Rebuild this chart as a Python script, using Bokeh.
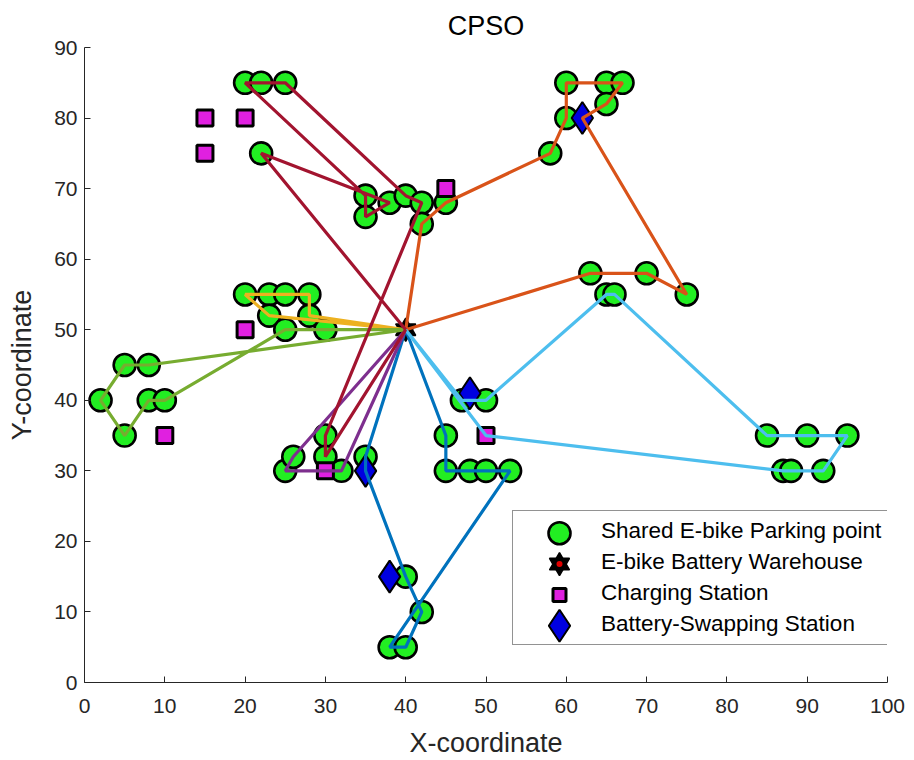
from bokeh.plotting import figure
from bokeh.models import Range1d, FixedTicker, Legend, LegendItem
from bokeh.embed import file_html
from bokeh.resources import INLINE

# ---------------- data ----------------
title_text = "CPSO"
x_label = "X-coordinate"
y_label = "Y-coordinate"
x_ticks = [0, 10, 20, 30, 40, 50, 60, 70, 80, 90, 100]
y_ticks = [0, 10, 20, 30, 40, 50, 60, 70, 80, 90]

legend_labels = ["Shared E-bike Parking point", "E-bike Battery Warehouse",
                 "Charging Station", "Battery-Swapping Station"]

parking_x = [20, 22, 25, 22,
             35, 35, 38, 40, 42, 42, 45,
             60, 65, 67, 65, 60, 58,
             63, 70, 75, 65, 66,
             20, 23, 25, 28, 23, 28, 25, 30,
             5, 8, 2, 8, 10, 5,
             25, 26, 30, 30, 32, 35,
             45, 45, 48, 50, 53, 47, 50,
             85, 90, 95, 87, 88, 92,
             40, 42, 38, 40]
parking_y = [85, 85, 85, 75,
             69, 66, 68, 69, 68, 65, 68,
             85, 85, 85, 82, 80, 75,
             58, 58, 55, 55, 55,
             55, 55, 55, 55, 52, 52, 50, 50,
             45, 45, 40, 40, 40, 35,
             30, 32, 35, 32, 30, 32,
             35, 30, 30, 30, 30, 40, 40,
             35, 35, 35, 30, 30, 30,
             15, 10, 5, 5]

depot_x = [40]
depot_y = [50]

charging_x = [15, 20, 15, 45, 20, 10, 30, 50]
charging_y = [80, 80, 75, 70, 50, 35, 30, 35]

swap_x = [35, 38, 48, 62]
swap_y = [30, 15, 41, 80]

route_blue_x = [40, 35, 35, 40, 42, 40, 38, 53, 50, 48, 45, 45, 40]
route_blue_y = [50, 32, 30, 15, 10, 5, 5, 30, 30, 30, 30, 35, 50]
route_orange_x = [40, 63, 70, 75, 62, 65, 67, 65, 60, 60, 58, 45, 42, 40]
route_orange_y = [50, 58, 58, 55, 80, 82, 85, 85, 85, 80, 75, 68, 65, 50]
route_yellow_x = [40, 28, 28, 25, 23, 20, 23, 40]
route_yellow_y = [50, 52, 55, 55, 55, 55, 52, 50]
route_purple_x = [40, 26, 25, 32, 40]
route_purple_y = [50, 32, 30, 30, 50]
route_green_x = [40, 8, 5, 2, 5, 8, 10, 25, 30, 40]
route_green_y = [50, 45, 45, 40, 35, 40, 40, 50, 50, 50]
route_lightblue_x = [40, 47, 50, 65, 66, 85, 90, 95, 92, 88, 87, 50, 40]
route_lightblue_y = [50, 40, 40, 55, 55, 35, 35, 35, 30, 30, 30, 35, 50]
route_maroon_x = [40, 22, 38, 35, 35, 20, 22, 25, 40, 42, 30, 30, 40]
route_maroon_y = [50, 75, 68, 66, 69, 85, 85, 85, 69, 68, 35, 32, 50]

routes = [
    (route_blue_x, route_blue_y, "#0072BD"),
    (route_orange_x, route_orange_y, "#D95319"),
    (route_yellow_x, route_yellow_y, "#EDB120"),
    (route_purple_x, route_purple_y, "#7E2F8E"),
    (route_green_x, route_green_y, "#77AC30"),
    (route_lightblue_x, route_lightblue_y, "#4DBEEE"),
    (route_maroon_x, route_maroon_y, "#A2142F"),
]

# ---------------- style ----------------
FONT = "Liberation Sans"
TXT = "#262626"
GREEN = "#22ee22"
MAGENTA = "#e020e0"
BLUE = "#0000e0"
RED = "#e00000"

W, H = 914, 760
ML, MR, MT, MB = 84, 27, 47, 75
FW, FH = W - ML - MR, H - MT - MB

p = figure(width=W, height=H, x_range=Range1d(x_ticks[0], x_ticks[-1]),
           y_range=Range1d(y_ticks[0], y_ticks[-1]),
           output_backend="svg", toolbar_location=None,
           min_border_left=ML, min_border_right=MR,
           min_border_top=MT, min_border_bottom=MB)
p.outline_line_color = None
p.grid.visible = False
p.background_fill_color = "white"
p.border_fill_color = "white"

p.title.text = title_text
p.title.align = "center"
p.title.text_font = FONT
p.title.text_font_size = "27px"
p.title.text_font_style = "normal"
p.title.text_color = "black"
p.title.standoff = 14

for ax, ticks, lab in ((p.xaxis[0], x_ticks, x_label), (p.yaxis[0], y_ticks, y_label)):
    ax.ticker = FixedTicker(ticks=ticks)
    ax.major_tick_in = 6
    ax.major_tick_out = 0
    ax.minor_tick_in = 0
    ax.minor_tick_out = 0
    ax.axis_line_color = TXT
    ax.major_tick_line_color = TXT
    ax.major_label_text_font = FONT
    ax.major_label_text_font_size = "21px"
    ax.major_label_text_color = TXT
    ax.axis_label = lab
    ax.axis_label_text_font = FONT
    ax.axis_label_text_font_size = "27px"
    ax.axis_label_text_font_style = "normal"
    ax.axis_label_text_color = TXT
p.xaxis.major_label_standoff = 16
p.xaxis.axis_label_standoff = 12
p.yaxis.major_label_standoff = 7
p.yaxis.axis_label_standoff = 14

# markers
p.scatter(parking_x, parking_y, marker="circle", size=22, fill_color=GREEN,
          line_color="black", line_width=2.6)
p.scatter(depot_x, depot_y, marker="triangle", size=20, fill_color="black",
          line_color="black", line_width=1.5)
p.scatter(depot_x, depot_y, marker="inverted_triangle", size=20, fill_color="black",
          line_color="black", line_width=1.5)
p.scatter(depot_x, depot_y, marker="circle", size=6, fill_color=RED, line_color=None)
p.scatter(charging_x, charging_y, marker="square", size=16, fill_color=MAGENTA,
          line_color="black", line_width=3)
p.scatter(swap_x, swap_y, marker="diamond", size=32, fill_color=BLUE,
          line_color="black", line_width=2)

# routes
for rx, ry, col in routes:
    p.line(rx, ry, line_color=col, line_width=3.2)

# legend (text + box from Legend; markers drawn in pixel space)
LEG_X, LEG_Y = 428, 37
PAD, ROW, SP, GW = 6, 28, 3, 82
n = len(legend_labels)
leg_h = 2 * PAD + n * ROW + (n - 1) * SP
p.extra_x_ranges = {"px": Range1d(0, FW)}
p.extra_y_ranges = {"py": Range1d(0, FH)}
mx = [LEG_X + PAD + GW / 2]
my = [LEG_Y + leg_h - PAD - ROW / 2 - i * (ROW + SP) for i in range(n)]

p.scatter(mx, [my[0]], marker="circle", size=22, fill_color=GREEN, line_color="black",
          line_width=2.6, x_range_name="px", y_range_name="py")
p.scatter(mx, [my[1]], marker="triangle", size=20, fill_color="black", line_color="black",
          line_width=1.5, x_range_name="px", y_range_name="py")
p.scatter(mx, [my[1]], marker="inverted_triangle", size=20, fill_color="black",
          line_color="black", line_width=1.5, x_range_name="px", y_range_name="py")
p.scatter(mx, [my[1]], marker="circle", size=6, fill_color=RED, line_color=None,
          x_range_name="px", y_range_name="py")
p.scatter(mx, [my[2]], marker="square", size=13, fill_color=MAGENTA, line_color="black",
          line_width=3, x_range_name="px", y_range_name="py")
p.scatter(mx, [my[3]], marker="diamond", size=32, fill_color=BLUE, line_color="black",
          line_width=2, x_range_name="px", y_range_name="py")

dummies = [p.scatter([], [], marker="circle", fill_alpha=0, line_alpha=0) for _ in range(n)]
legend = Legend(items=[LegendItem(label=lbl, renderers=[d]) for lbl, d in zip(legend_labels, dummies)],
                location=(LEG_X, LEG_Y), padding=PAD, spacing=SP,
                label_height=ROW, glyph_height=ROW, glyph_width=GW, label_standoff=0,
                label_text_font=FONT, label_text_font_size="22.5px", label_text_color="black",
                border_line_color="#262626", border_line_width=1,
                background_fill_alpha=0, margin=0)
p.add_layout(legend)

open("out.html", "w").write(file_html(p, INLINE))
